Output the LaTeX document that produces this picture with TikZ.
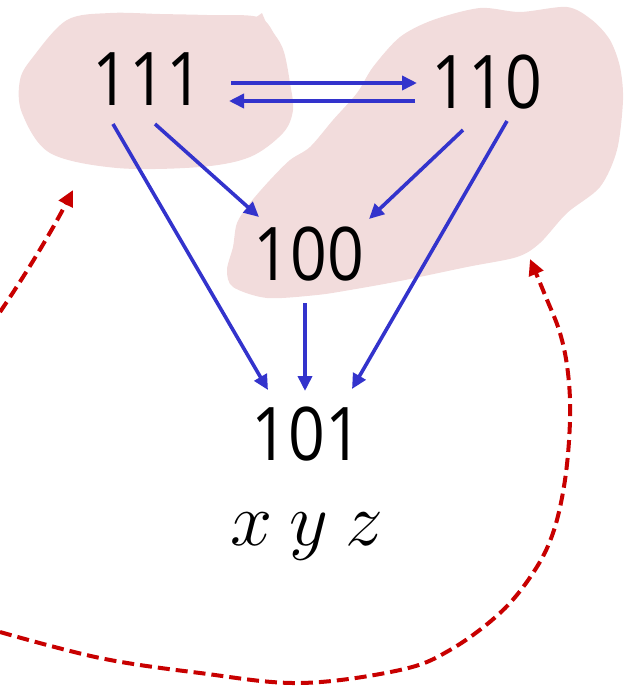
\documentclass[tikz,border=0pt]{standalone}
\usepackage{fontspec}
\newfontfamily\digitfont[FakeStretch=0.87]{Open Sans}
\usetikzlibrary{arrows.meta}
\definecolor{blobpink}{RGB}{242,220,220}
\definecolor{arrowblue}{RGB}{51,51,204}
\definecolor{dashred}{RGB}{200,0,0}
\tikzset{
  blob/.style={fill=blobpink, draw=none},
  statelabel/.style={font=\digitfont\fontsize{74}{80}\selectfont, inner sep=0pt, anchor=base},
  varlabel/.style={font=\fontsize{20}{24}\selectfont, scale=3.65, inner sep=0pt, anchor=base},
  flow/.style={draw=arrowblue, line width=3.6pt, -{Triangle[length=15pt,width=14pt]}},
  jump/.style={draw=dashred, line width=4pt, dash pattern=on 12pt off 6pt, -{Triangle[length=16pt,width=15pt]}},
}
\begin{document}
\begin{tikzpicture}[x=1pt,y=-1pt]
\useasboundingbox (0,0) rectangle (625,686);
% blobs
\fill[blob] plot[smooth cycle, tension=0.55] coordinates {
  (67,20) (110,13) (160,14) (207,15) (258,17) (275,35) (284,52) (290,83) (293,110)
  (283,133) (250,157) (200,167) (117,168) (50,153) (22,113) (20,80) (33,57)};
\fill[blob] (255,18) -- (262,13) -- (270,32) -- cycle;
\fill[blob] plot[smooth cycle, tension=0.5] coordinates {
  (480,8) (520,12) (567,7) (592,20) (610,40) (620,67) (623,100) (617,150) (600,187)
  (567,213) (540,243) (517,257) (467,267) (400,281) (350,290) (317,295) (267,298)
  (233,287) (227,270) (233,247) (237,223) (250,203) (270,180) (290,160) (310,147)
  (333,120) (357,93) (373,67) (400,37) (433,20)};
% labels
\node[statelabel] (n111) at (148,105) {111};
\node[statelabel] (n110) at (487,108) {110};
\node[statelabel] (n100) at (309,280) {100};
\node[statelabel] (n101) at (307,460) {101};
\node[varlabel] (vars) at (307,545) {$x\:y\:z$};
% connector end points
\coordinate (p111r1) at (231,83);
\coordinate (p110l1) at (417,83);
\coordinate (p110l2) at (415,101);
\coordinate (p111r2) at (229,101);
\coordinate (p111a) at (113,124);
\coordinate (p111b) at (155,124);
\coordinate (p110a) at (463,130);
\coordinate (p110b) at (507,121);
\coordinate (p100t1) at (259,217);
\coordinate (p100t2) at (369,219);
\coordinate (p100b) at (305,303);
\coordinate (p101a) at (268,390);
\coordinate (p101b) at (305,391);
\coordinate (p101c) at (352,389);
\coordinate (jumpAstart) at (0,312);
\coordinate (jumpAend) at (73,190);
\coordinate (jumpBstart) at (0,632);
\coordinate (jumpBend) at (530,259);
% blue arrows
\draw[flow] (p111r1) -- (p110l1);
\draw[flow] (p110l2) -- (p111r2);
\draw[flow] (p111a) -- (p101a);
\draw[flow] (p111b) -- (p100t1);
\draw[flow] (p110a) -- (p100t2);
\draw[flow] (p110b) -- (p101c);
\draw[flow] (p100b) -- (p101b);
% red dashed arrows
\draw[jump] (jumpAstart) .. controls (30,268) and (55,225) .. (jumpAend);
\draw[jump] plot[smooth, tension=0.6] coordinates {
  (jumpBstart) (100,658) (200,673) (300,683) (400,670) (450,650) (500,613) (533,573)
  (553,533) (565,480) (570,420) (568,373) (560,333) (545,295) (jumpBend)};
\end{tikzpicture}
\end{document}
